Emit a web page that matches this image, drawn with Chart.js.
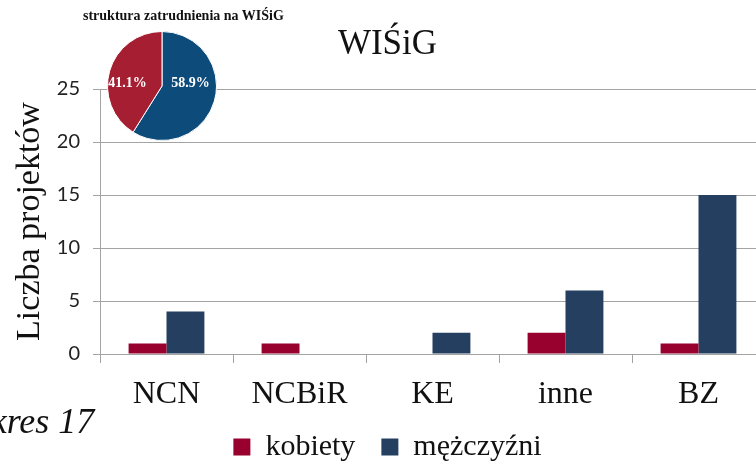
<!DOCTYPE html>
<html lang="pl">
<head>
<meta charset="UTF-8">
<title>WIŚiG</title>
<script src="https://cdn.jsdelivr.net/npm/chart.js"></script>
<style>
    body { margin: 0; overflow: hidden; background: #fff; }
    #wrap { position: relative; width: 770px; height: 465px; overflow: hidden; }
    #barChart { position: absolute; left: 0; top: 0; }
    #pieChart { position: absolute; left: 107px; top: 31px; }
    #pieTitle { position: absolute; left: 83px; top: 8px; font: bold 14px "Liberation Serif", serif; white-space: nowrap; color: #111; }
    #caption { position: absolute; left: -52px; top: 400px; font: italic 36px "Liberation Serif", serif; white-space: nowrap; color: #111; }
</style>
</head>
<body>
<div id="wrap">
    <canvas id="barChart" width="770" height="472"></canvas>
    <canvas id="pieChart" width="110" height="110"></canvas>
    <div id="pieTitle">struktura zatrudnienia na WIŚiG</div>
    <div id="caption">Wykres 17</div>
</div>
<script>
    const categories = ['NCN', 'NCBiR', 'KE', 'inne', 'BZ'];
    const kobiety = [1, 1, 0, 2, 1];
    const mezczyzni = [4, 0, 2, 6, 15];
    const seriesNames = ['kobiety', 'mężczyźni'];
    const yMax = 25, yStep = 5;

    const pieLabels = ['mężczyźni', 'kobiety'];
    const pieShares = [58.9, 41.1];

    const serif = '"Liberation Serif", "Times New Roman", serif';
    const gridColor = '#a3a3a3';

    new Chart(document.getElementById('barChart'), {
        type: 'bar',
        data: {
            labels: categories,
            datasets: [
                { label: seriesNames[0], data: kobiety, backgroundColor: '#98002e' },
                { label: seriesNames[1], data: mezczyzni, backgroundColor: '#253f60' }
            ]
        },
        options: {
            responsive: false,
            animation: false,
            categoryPercentage: 0.57,
            barPercentage: 1.0,
            layout: { padding: { top: 0, left: 10, right: 5, bottom: 0 } },
            scales: {
                x: {
                    grid: { drawOnChartArea: false, drawTicks: true, tickLength: 9, color: gridColor },
                    border: { color: gridColor },
                    ticks: { color: '#111', font: { family: serif, size: 32 }, padding: 12 },
                    afterFit: s => { s.height = 52; }
                },
                y: {
                    min: 0, max: yMax,
                    ticks: { stepSize: yStep, color: '#222', font: { family: 'Lato, sans-serif', size: 20 }, padding: 13 },
                    grid: { color: gridColor, tickLength: 7 },
                    border: { color: gridColor },
                    title: { display: true, text: 'Liczba projektów', color: '#111', font: { family: serif, size: 34 }, padding: { top: 0, bottom: 0 } },
                    afterFit: s => { s.width = 90; }
                }
            },
            plugins: {
                title: { display: true, text: 'WIŚiG', color: '#111', font: { family: serif, size: 35, weight: 'normal' }, padding: { top: 24, bottom: 23 } },
                legend: {
                    position: 'bottom',
                    labels: { color: '#111', font: { family: serif, size: 30 }, boxWidth: 17, boxHeight: 17, padding: 26 }
                },
                tooltip: { enabled: false }
            }
        }
    });

    // white percentage labels inside the pie slices
    const pieLabelPlugin = {
        id: 'pieLabels',
        afterDatasetsDraw(chart) {
            const ctx = chart.ctx;
            const meta = chart.getDatasetMeta(0);
            ctx.save();
            ctx.fillStyle = '#fff';
            ctx.font = 'bold 14px ' + serif;
            ctx.textAlign = 'center';
            ctx.textBaseline = 'middle';
            meta.data.forEach((arc, i) => {
                const p = arc.getProps(['x', 'y', 'startAngle', 'endAngle', 'outerRadius']);
                const mid = (p.startAngle + p.endAngle) / 2;
                const r = p.outerRadius * 0.6;
                ctx.fillText(pieShares[i].toFixed(1) + '%', p.x + Math.cos(mid) * r - 3, p.y - 3);
            });
            ctx.restore();
        }
    };

    new Chart(document.getElementById('pieChart'), {
        type: 'pie',
        data: {
            labels: pieLabels,
            datasets: [{ data: pieShares, backgroundColor: ['#0d4b7b', '#a61e31'], borderColor: '#fff', borderWidth: 1 }]
        },
        options: {
            responsive: false,
            animation: false,
            layout: { padding: 0 },
            plugins: { legend: { display: false }, tooltip: { enabled: false } }
        },
        plugins: [pieLabelPlugin]
    });
</script>
</body>
</html>
